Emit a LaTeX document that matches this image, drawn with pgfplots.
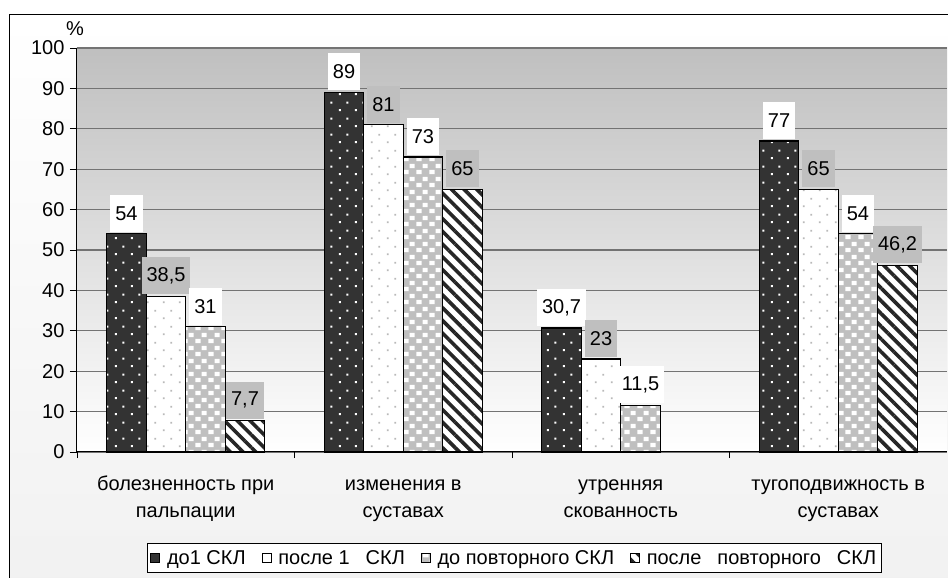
\documentclass[border=0pt]{standalone}
\usepackage{fontspec}
\setmainfont{Liberation Sans}
\usepackage{pgfplots}
\pgfplotsset{compat=1.18}
\usetikzlibrary{patterns,patterns.meta}
\pgfdeclarepatternformonly{mycheck}{\pgfqpoint{0pt}{0pt}}{\pgfqpoint{13pt}{13pt}}{\pgfqpoint{13pt}{13pt}}{%
 \pgfpathrectangle{\pgfqpoint{0.5pt}{1pt}}{\pgfqpoint{5.5pt}{4.5pt}}%
 \pgfpathrectangle{\pgfqpoint{7pt}{7.5pt}}{\pgfqpoint{5.5pt}{4.5pt}}%
 \pgfusepath{fill}}
\pgfdeclarepatternformonly{mydotsA}{\pgfqpoint{0pt}{0pt}}{\pgfqpoint{16pt}{16pt}}{\pgfqpoint{16pt}{16pt}}{%
 \pgfpathrectangle{\pgfqpoint{3pt}{3pt}}{\pgfqpoint{2.2pt}{2.2pt}}%
 \pgfpathrectangle{\pgfqpoint{11pt}{11pt}}{\pgfqpoint{2.2pt}{2.2pt}}%
 \pgfusepath{fill}}
\pgfdeclarepatternformonly{mydotsB}{\pgfqpoint{0pt}{0pt}}{\pgfqpoint{16pt}{16pt}}{\pgfqpoint{16pt}{16pt}}{%
 \pgfpathrectangle{\pgfqpoint{3pt}{3pt}}{\pgfqpoint{1.8pt}{1.8pt}}%
 \pgfpathrectangle{\pgfqpoint{11pt}{11pt}}{\pgfqpoint{1.8pt}{1.8pt}}%
 \pgfusepath{fill}}
\tikzset{
 sA/.style={draw=black, fill=black!80, postaction={pattern=mydotsA, pattern color=white}},
 sB/.style={draw=black, fill=white, postaction={pattern=mydotsB, pattern color=gray!55}},
 sC/.style={draw=black, fill=gray!50, postaction={pattern=mycheck, pattern color=white}},
 sD/.style={draw=black, fill=white, postaction={pattern={Lines[angle=-45, distance=9pt, line width=3.6pt]}, pattern color=black!85}},
}
\newcommand{\dsp}{\hspace{0.8em}}
\begin{document}
\begin{tikzpicture}[x=1pt,y=1pt]
\shade[top color=white, bottom color=gray!12] (-67,-200) rectangle (900,437);
\draw[line width=1pt] (-67,-200) rectangle (900,437);
\begin{axis}[
 at={(0,0)}, anchor=south west,
 scale only axis, width=870pt, height=404pt,
 xmin=-0.5, xmax=3.5, ymin=0, ymax=100,
 ybar, bar width=0.1816,
 axis x line*=bottom, axis y line*=left,
 axis line style={line width=1pt, -},
 axis background/.style={top color=gray!50, bottom color=white},
 ytick={0,10,...,100},
 tick align=outside, major tick length=7pt, minor tick length=6pt,
 xtick={0,1,2,3},
 xticklabels={\strut болезненность при\\пальпации, \strut изменения в\\суставах, \strut утренняя\\скованность, \strut тугоподвижность в\\суставах},
 major x tick style={draw=none},
 minor xtick={-0.5,0.5,1.5,2.5},
 minor x tick style={black, line width=0.8pt},
 ytick style={black, line width=0.8pt},
 ymajorgrids, major grid style={gray!90!black, line width=1.3pt},
 tick label style={font=\fontsize{20}{27}\selectfont},
 yticklabel style={xshift=-2pt},
 xticklabel style={font=\fontsize{20}{27}\selectfont, align=center, yshift=-9pt},
 /pgf/number format/.cd, use comma, assume math mode=true, /pgfplots/.cd,
 nodes near coords,
 nodes near coords style={font=\fontsize{20}{22}\selectfont, anchor=south, minimum height=37pt, inner xsep=5pt, inner ysep=0pt, yshift=1.5pt},
 clip=false,
 legend style={at={(axis description cs:0.0805,-0.2252)}, anchor=north west, draw=black, line width=0.8pt, fill=white,
   font=\fontsize{20}{22}\selectfont, inner xsep=3pt, inner ysep=5pt,
   /tikz/every even column/.append style={column sep=14pt},
   /tikz/every odd column/.append style={column sep=5pt}},
 legend columns=4,
 legend image code/.code={\draw[#1, line width=0.6pt] (0pt,-4.5pt) rectangle (9pt,4.5pt);},
]
\addplot[sA, line width=1.2pt, bar shift=-0.2724, every node near coord/.append style={fill=white}]
 coordinates {(0,54) (1,89) (2,30.7) (3,77)};
\addplot[sB, line width=1.2pt, bar shift=-0.0908, every node near coord/.append style={fill=gray!50}]
 coordinates {(0,38.5) (1,81) (2,23) (3,65)};
\addplot[sC, line width=1.2pt, bar shift=0.0908, every node near coord/.append style={fill=white}]
 coordinates {(0,31) (1,73) (2,11.5) (3,54)};
\addplot[sD, line width=1.2pt, bar shift=0.2724, every node near coord/.append style={fill=gray!50}]
 coordinates {(0,7.7) (1,65) (3,46.2)};
\legend{до1 СКЛ, после 1\dsp СКЛ, до повторного СКЛ, после\dsp повторного\dsp СКЛ}
\end{axis}
\node[font=\fontsize{20}{22}\selectfont] at (-2,423) {\%};
\pgfresetboundingbox
\path[use as bounding box] (-77,-126) rectangle (871,452);
\end{tikzpicture}
\end{document}
